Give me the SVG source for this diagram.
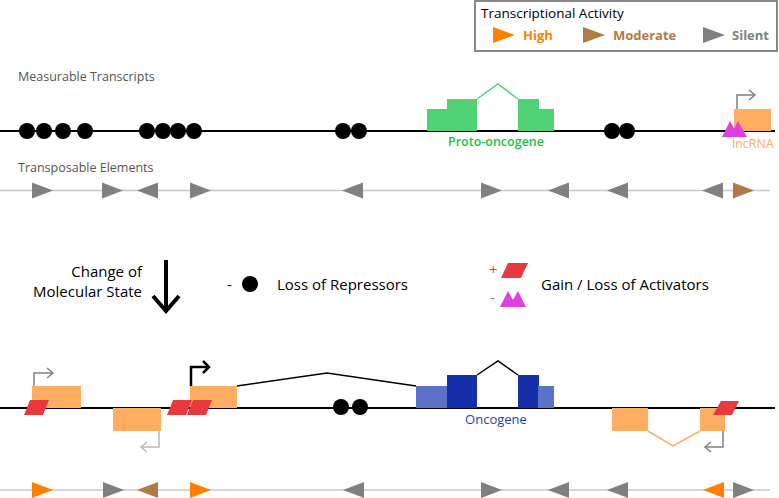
<svg xmlns="http://www.w3.org/2000/svg" width="779" height="498" viewBox="0 0 779 498">
<style>
text{font-family:"Open Sans","Noto Sans","DejaVu Sans",sans-serif}
.lbl{font-size:12.5px;fill:#555}
.big{font-size:15px;fill:#000}
.dna{stroke:#000;stroke-width:2;fill:none}
.te{stroke:#c8c8c8;stroke-width:1.5;fill:none}
.rep{fill:#000}
.sil{fill:#808080}
.mod{fill:#b07a45}
.hi{fill:#ff8000}
.orb{fill:#ffad60}
.act{fill:#e8393f}
.mag{fill:#e040e0}
</style>
<defs>
<polygon id="tr" points="0,-8 21,0 0,8"/>
<polygon id="tl" points="21,-8 0,0 21,8"/>
<path id="pg" d="M6,0 H25 L19,15 H0 Z"/>
</defs>

<g id="legend">
<rect x="475" y="1" width="302" height="50" fill="#fff" stroke="#888" stroke-width="2"/>
<text x="481" y="18" font-size="13.5" fill="#000">Transcriptional Activity</text>
<polygon points="493,27 515,35 493,43" class="hi"/>
<text x="523" y="40" font-size="13" font-weight="bold" fill="#ff8000">High</text>
<polygon points="583,27 605,35 583,43" class="mod"/>
<text x="613" y="40" font-size="13" font-weight="bold" fill="#b07a45">Moderate</text>
<polygon points="703,27 725,35 703,43" class="sil"/>
<text x="732" y="40" font-size="13" font-weight="bold" fill="#808080">Silent</text>
</g>

<g id="labels">
<text x="18" y="81" class="lbl">Measurable Transcripts</text>
<text x="18" y="172" class="lbl">Transposable Elements</text>
</g>

<g id="connectors">
<line x1="0" y1="131" x2="775" y2="131" class="dna"/>
<line x1="0" y1="190.5" x2="770" y2="190.5" class="te"/>
<line x1="0" y1="408" x2="775" y2="408" class="dna"/>
<line x1="0" y1="490" x2="770" y2="490" class="te"/>
</g>

<g id="top-repressors">
<circle cx="27" cy="131" r="8" class="rep"/>
<circle cx="44" cy="131" r="8" class="rep"/>
<circle cx="63" cy="131" r="8" class="rep"/>
<circle cx="85" cy="131" r="8" class="rep"/>
<circle cx="147" cy="131" r="8" class="rep"/>
<circle cx="163" cy="131" r="8" class="rep"/>
<circle cx="178" cy="131" r="8" class="rep"/>
<circle cx="194" cy="131" r="8" class="rep"/>
<circle cx="343" cy="131" r="8" class="rep"/>
<circle cx="359" cy="131" r="8" class="rep"/>
<circle cx="612" cy="131" r="8" class="rep"/>
<circle cx="627" cy="131" r="8" class="rep"/>
</g>

<g id="proto-oncogene">
<rect x="427" y="109" width="21" height="22" fill="#4fd174"/>
<rect x="447" y="99" width="30" height="32" fill="#4fd174"/>
<rect x="518" y="99" width="21" height="32" fill="#4fd174"/>
<rect x="538" y="109" width="16" height="22" fill="#4fd174"/>
<polyline points="477,99 498,84 518,99" fill="none" stroke="#4fd174" stroke-width="1.5"/>
<text x="496" y="146" font-size="12.5" font-weight="600" fill="#22c040" text-anchor="middle">Proto-oncogene</text>
</g>

<g id="lncRNA">
<rect x="734" y="109" width="37" height="22" class="orb"/>
<polyline points="737,109 737,95 754,95" fill="none" stroke="#808080" stroke-width="1.5"/>
<polyline points="749,90 755,95 749,100" fill="none" stroke="#808080" stroke-width="1.5"/>
<polygon points="722,137 730,121 739,137" class="mag"/>
<polygon points="730,137 738,121 747,137" class="mag"/>
<text x="732" y="148" font-size="12.5" fill="#ffad60">lncRNA</text>
</g>

<g id="top-TEs">
<use href="#tr" x="32" y="190.5" class="sil"/>
<use href="#tr" x="102" y="190.5" class="sil"/>
<use href="#tl" x="137" y="190.5" class="sil"/>
<use href="#tr" x="190" y="190.5" class="sil"/>
<use href="#tl" x="342" y="190.5" class="sil"/>
<use href="#tr" x="481" y="190.5" class="sil"/>
<use href="#tl" x="548" y="190.5" class="sil"/>
<use href="#tl" x="607" y="190.5" class="sil"/>
<use href="#tl" x="702" y="190.5" class="sil"/>
<use href="#tr" x="733" y="190.5" class="mod"/>
</g>

<g id="state-change">
<text x="142" y="277" class="big" text-anchor="end">Change of</text>
<text x="142" y="297" class="big" text-anchor="end">Molecular State</text>
<line x1="166" y1="260" x2="166" y2="310" stroke="#000" stroke-width="4"/>
<polyline points="153,296 166,311 179,296" fill="none" stroke="#000" stroke-width="4"/>
</g>

<g id="loss-repressors">
<text x="227" y="290" class="big">-</text>
<circle cx="250" cy="284" r="8" class="rep"/>
<text x="277" y="290" class="big">Loss of Repressors</text>
</g>

<g id="gain-loss-activators">
<text x="489" y="275" font-size="15" fill="#e8393f">+</text>
<polygon points="508,263 528,263 521,278 501,278" class="act"/>
<text x="490" y="303" font-size="15" fill="#e040e0">-</text>
<polygon points="500,307 508,291 517,307" class="mag"/>
<polygon points="509,307 518,291 526,307" class="mag"/>
<text x="541" y="290" class="big">Gain / Loss of Activators</text>
</g>

<g id="bottom-left-transcripts">
<rect x="32" y="386" width="49" height="22" class="orb"/>
<polyline points="34,386 34,373 52,373" fill="none" stroke="#808080" stroke-width="1.5"/>
<polyline points="47,368 53,373 47,378" fill="none" stroke="#808080" stroke-width="1.5"/>
<use href="#pg" x="24" y="400" class="act"/>
<rect x="113" y="408" width="48" height="23" class="orb"/>
<polyline points="159,431 159,447 142,447" fill="none" stroke="#bbb" stroke-width="1.5"/>
<polyline points="147,442 141,447 147,452" fill="none" stroke="#bbb" stroke-width="1.5"/>
<rect x="190" y="386" width="47" height="22" class="orb"/>
<use href="#pg" x="167" y="400" class="act"/>
<use href="#pg" x="187" y="400" class="act"/>
<polyline points="191,386 191,367 208,367" fill="none" stroke="#000" stroke-width="2.5"/>
<polyline points="203,361 209,367 203,373" fill="none" stroke="#000" stroke-width="2.5"/>
<polyline points="237,386 327,373 416,386" fill="none" stroke="#000" stroke-width="1.5"/>
<circle cx="341" cy="407" r="8" class="rep"/>
<circle cx="360" cy="407" r="8" class="rep"/>
</g>

<g id="oncogene">
<rect x="416" y="386" width="32" height="22" fill="#5b72c8"/>
<rect x="447" y="375" width="30" height="33" fill="#1530a8"/>
<rect x="518" y="375" width="21" height="33" fill="#1530a8"/>
<rect x="538" y="386" width="16" height="22" fill="#5b72c8"/>
<polyline points="477,375 498,361 518,375" fill="none" stroke="#000" stroke-width="1.5"/>
<text x="496" y="424" font-size="13" fill="#1f3fb0" text-anchor="middle">Oncogene</text>
</g>

<g id="bottom-right-transcript">
<rect x="612" y="408" width="36" height="23" class="orb"/>
<rect x="700" y="408" width="25" height="23" class="orb"/>
<polyline points="648,431 673,446 700,431" fill="none" stroke="#ffad60" stroke-width="1.5"/>
<polyline points="723,431 723,447 706,447" fill="none" stroke="#808080" stroke-width="1.5"/>
<polyline points="711,442 705,447 711,452" fill="none" stroke="#808080" stroke-width="1.5"/>
<polygon points="721,401 739,401 732,415 713,415" class="act"/>
</g>

<g id="bottom-TEs">
<use href="#tr" x="32" y="490" class="hi"/>
<use href="#tr" x="103" y="490" class="sil"/>
<use href="#tl" x="137" y="490" class="mod"/>
<use href="#tr" x="190" y="490" class="hi"/>
<use href="#tl" x="343" y="490" class="sil"/>
<use href="#tr" x="481" y="490" class="sil"/>
<use href="#tl" x="548" y="490" class="sil"/>
<use href="#tl" x="607" y="490" class="sil"/>
<use href="#tl" x="703" y="490" class="hi"/>
<use href="#tr" x="733" y="490" class="sil"/>
</g>
</svg>
